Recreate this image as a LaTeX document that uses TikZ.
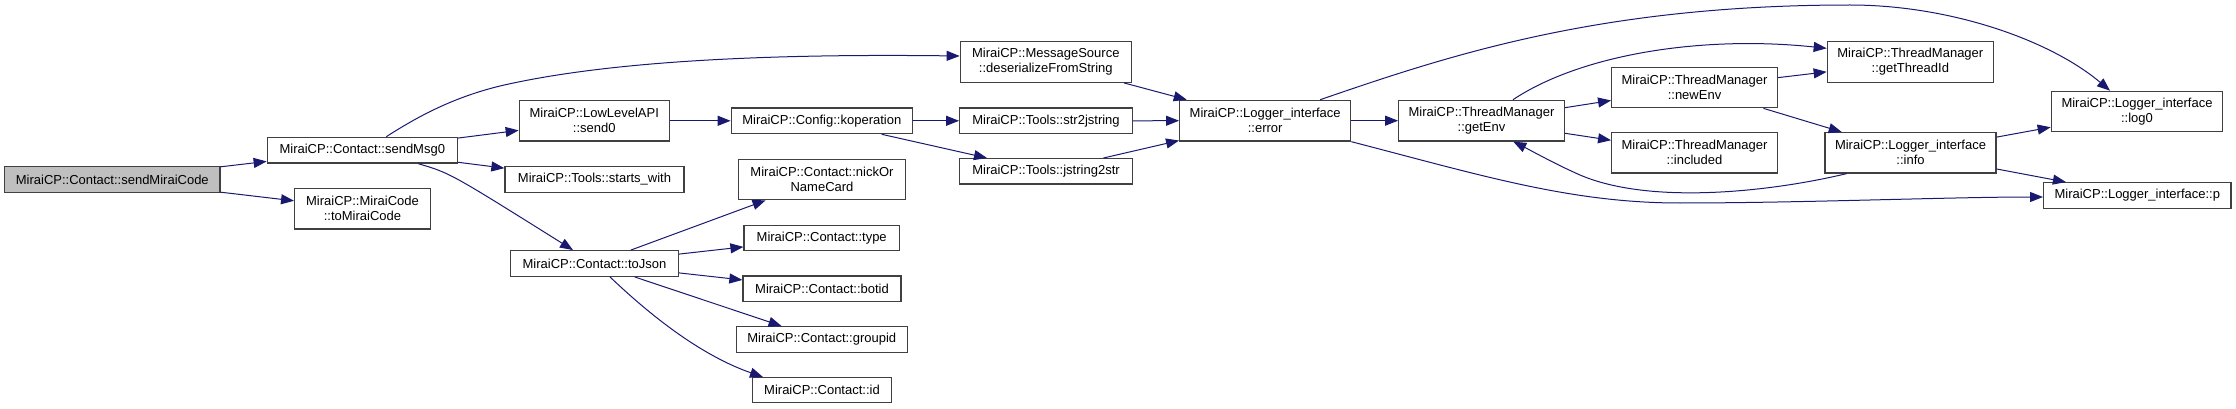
\documentclass[tikz,border=0pt]{standalone}
\usepackage{fontspec}
\setmainfont{Liberation Sans}
\usetikzlibrary{arrows.meta}
\definecolor{edgec}{HTML}{191970}
\definecolor{boxc}{HTML}{404040}
\definecolor{curfill}{HTML}{BFBFBF}
\tikzset{
  fn/.style={draw=boxc, line width=1.3pt, fill=white, rectangle, inner sep=0pt,
             align=center, font=\fontsize{13}{15}\selectfont},
  curfn/.style={fn, fill=curfill},
  call/.style={draw=edgec, line width=1pt, -{Triangle[length=13pt,width=10pt]}}
}
\begin{document}
\begin{tikzpicture}[x=1pt,y=-1pt]
\useasboundingbox (0,0) rectangle (2236,409);
% nodes
\node[curfn, minimum width=215.3pt, minimum height=25.6pt] (smc) at (112.3,179.5) {MiraiCP::Contact::sendMiraiCode};
\node[fn, minimum width=190pt, minimum height=25.7pt] (sm0) at (362.3,150.2) {MiraiCP::Contact::sendMsg0};
\node[fn, minimum width=135.6pt, minimum height=40.3pt] (tmc) at (362.5,208.8) {MiraiCP::MiraiCode\\::toMiraiCode};
\node[fn, minimum width=150pt, minimum height=40.3pt] (snd) at (594.3,120.8) {MiraiCP::LowLevelAPI\\::send0};
\node[fn, minimum width=179pt, minimum height=25.6pt] (sw) at (594.5,179.5) {MiraiCP::Tools::starts\_with};
\node[fn, minimum width=167.6pt, minimum height=25.6pt] (tj) at (594.5,263.5) {MiraiCP::Contact::toJson};
\node[fn, minimum width=181pt, minimum height=25.7pt] (kop) at (821.8,120.8) {MiraiCP::Config::koperation};
\node[fn, minimum width=167.4pt, minimum height=40.4pt] (nick) at (822,179.5) {MiraiCP::Contact::nickOr\\NameCard};
\node[fn, minimum width=155.3pt, minimum height=25pt] (typ) at (821.7,238.2) {MiraiCP::Contact::type};
\node[fn, minimum width=158pt, minimum height=25.7pt] (bot) at (822,288.8) {MiraiCP::Contact::botid};
\node[fn, minimum width=171pt, minimum height=25.6pt] (grp) at (821.8,339.5) {MiraiCP::Contact::groupid};
\node[fn, minimum width=138.6pt, minimum height=25pt] (cid) at (822,390.2) {MiraiCP::Contact::id};
\node[fn, minimum width=171pt, minimum height=40.6pt] (ms) at (1045.8,62) {MiraiCP::MessageSource\\::deserializeFromString};
\node[fn, minimum width=172.6pt, minimum height=25.7pt] (s2j) at (1046,120.8) {MiraiCP::Tools::str2jstring};
\node[fn, minimum width=172.6pt, minimum height=25.3pt] (j2s) at (1046,171.3) {MiraiCP::Tools::jstring2str};
\node[fn, minimum width=171pt, minimum height=40.7pt] (err) at (1265.2,120.7) {MiraiCP::Logger\_interface\\::error};
\node[fn, minimum width=165.6pt, minimum height=40.7pt] (ge) at (1481.5,120.7) {MiraiCP::ThreadManager\\::getEnv};
\node[fn, minimum width=165.6pt, minimum height=40.4pt] (ne) at (1694.5,87.5) {MiraiCP::ThreadManager\\::newEnv};
\node[fn, minimum width=165.6pt, minimum height=40.3pt] (inc) at (1694.5,152.8) {MiraiCP::ThreadManager\\::included};
\node[fn, minimum width=166pt, minimum height=40.6pt] (gti) at (1910.3,62) {MiraiCP::ThreadManager\\::getThreadId};
\node[fn, minimum width=171pt, minimum height=40.3pt] (inf) at (1910.5,152.8) {MiraiCP::Logger\_interface\\::info};
\node[fn, minimum width=171.4pt, minimum height=40.4pt] (log) at (2137,111.5) {MiraiCP::Logger\_interface\\::log0};
\node[fn, minimum width=187.3pt, minimum height=25.6pt] (lp) at (2137.3,195.5) {MiraiCP::Logger\_interface::p};
% edges
\draw[call] (smc) -- (sm0);
\draw[call] (smc) -- (tmc);
\draw[call] ([xshift=24pt]sm0.north) .. controls (420,115) and (455,97) .. (500,86)
   .. controls (620,58) and (800,54) .. ([yshift=6pt]ms.west);
\draw[call] (sm0) -- (snd);
\draw[call] (sm0) -- (sw);
\draw[call] ([xshift=56pt]sm0.south) .. controls (450,173) .. ([xshift=-21.5pt]tj.north);
\draw[call] (snd) -- (kop);
\draw[call] (kop) -- (s2j);
\draw[call] (kop) -- (j2s);
\draw[call] (ms) -- (err);
\draw[call] (s2j) -- (err);
\draw[call] (j2s) -- (err);
\draw[call] (tj) -- (nick);
\draw[call] (tj) -- (typ);
\draw[call] (tj) -- (bot);
\draw[call] (tj) -- (grp);
\draw[call] ([xshift=15.5pt]tj.south) .. controls (650,315) and (700,355) .. ([xshift=-59pt]cid.north);
\draw[call] (err) -- (ge);
\draw[call] ([xshift=55pt]err.north) .. controls (1450,55) and (1600,5) .. (1850,5)
   .. controls (1950,5) and (2050,40) .. ([xshift=-27pt]log.north);
\draw[call] (err.south east) .. controls (1480,175) and (1570,203) .. (1680,203)
   .. controls (1800,203) and (1950,197) .. ([yshift=-1.5pt]lp.west);
\draw[call] (ge) -- (ne);
\draw[call] (ge) -- (inc);
\draw[call] ([xshift=31.5pt]ge.north) .. controls (1580,55) and (1700,35) .. ([yshift=13.7pt]gti.west);
\draw[call] (ne) -- (gti);
\draw[call] (ne) -- (inf);
\draw[call] ([xshift=-63.8pt]inf.south) .. controls (1770,192) and (1650,205) .. (1580,175)
   .. controls (1555,164) and (1530,150) .. ([xshift=31.8pt]ge.south);
\draw[call] (inf) -- (log);
\draw[call] (inf) -- (lp);
\end{tikzpicture}
\end{document}
